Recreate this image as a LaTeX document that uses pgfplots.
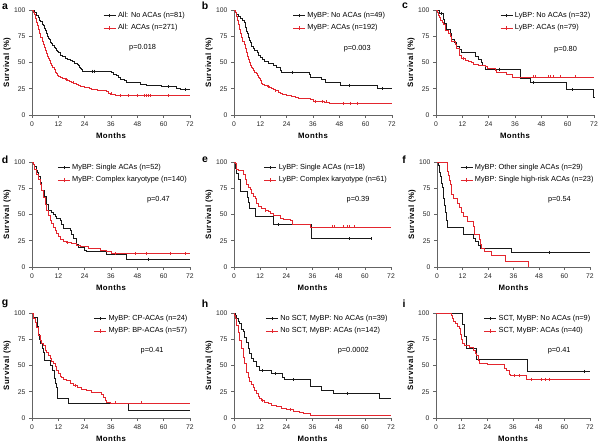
\documentclass[border=0pt]{standalone}
\usepackage{fontspec}
\setmainfont{Liberation Sans}
\newfontfamily\labfont[LetterSpace=6]{Liberation Sans}
\usepackage{pgfplots}
\pgfplotsset{compat=1.18}
\definecolor{kmred}{RGB}{227,38,46}
\definecolor{kmblack}{RGB}{25,25,25}
\definecolor{axgray}{RGB}{100,100,100}
\tikzset{pv/.style={font=\fontsize{7.4}{8}\selectfont, anchor=center}}
\pgfplotsset{
 km/.style={
  scale only axis, height=105bp, anchor=south west,
  xmin=0,xmax=72,ymin=0,ymax=100, clip=false,
  axis x line*=bottom, axis y line*=left,
  axis line style={axgray,line width=0.6pt,-},
  xtick={0,12,24,36,48,60,72}, ytick={0,25,50,75,100},
  tick align=outside, major tick length=3bp,
  tick style={axgray,line width=0.6pt},
  tick label style={font=\fontsize{6.8}{7}\selectfont, text=black!85},
  /pgf/number format/assume math mode=true,
  xlabel={Months}, ylabel={Survival (\%)},
  every axis x label/.style={at={(axis description cs:0.5,0)}, yshift=-21bp, anchor=center, font=\labfont\bfseries\fontsize{7.8}{8}\selectfont},
  every axis y label/.style={at={(axis description cs:0,0.5)}, xshift=-25bp, rotate=90, anchor=center, font=\labfont\bfseries\fontsize{7.8}{8}\selectfont},
  legend cell align=left,
  legend style={draw=none, fill=none, font=\fontsize{7.4}{8}\selectfont, inner sep=0pt, row sep=1.6bp, anchor=north west},
  legend image code/.code={\draw[##1] (0bp,0bp) -- (12bp,0bp); \draw[##1,line width=0.5pt] (6bp,-1.6bp) -- (6bp,1.6bp);},
 },
 kb/.style={kmblack, line width=0.75pt, const plot},
 kr/.style={kmred, line width=0.75pt, const plot},
 cb/.style={forget plot, only marks, mark=|, mark size=1.5bp, kmblack, mark options={line width=0.45pt}},
 cr/.style={forget plot, only marks, mark=|, mark size=1.5bp, kmred, mark options={line width=0.45pt}},
}
\begin{document}
\begin{tikzpicture}
\useasboundingbox (0,0) rectangle (600bp,443bp);
\tikzset{plab/.style={font=\bfseries\fontsize{10.5}{11}\selectfont, anchor=center}}
\node[plab] at (5bp,436bp) {a};
\node[plab] at (205bp,437bp) {b};
\node[plab] at (405bp,437bp) {c};
\node[plab] at (5bp,283bp) {d};
\node[plab] at (205bp,283bp) {e};
\node[plab] at (404bp,283bp) {f};
\node[plab] at (5bp,139bp) {g};
\node[plab] at (205bp,139bp) {h};
\node[plab] at (404bp,139bp) {i};

% ---------------- a
\begin{axis}[km, at={(32bp,328bp)}, width=158bp, legend style={at={(0.45,1.0)}}]
\addplot[kb] coordinates {(0,100) (1,97.5) (2,95.1) (3,92.6) (3.5,90.1) (4,88.9) (4.5,86.4) (5,85.2) (5.5,82.7) (6,80.2) (6.5,77.8) (7,75.3) (7.5,72.8) (8,71.6) (8.5,69.1) (9,67.9) (9.5,66.7) (10,64.2) (10.5,63) (11,61.7) (11.5,60.5) (12,59.3) (13,56.8) (14,55.6) (15,54.3) (16,53.1) (17.5,51.9) (18.5,50.6) (19.5,49.4) (20.5,48.1) (21,46.9) (21.5,45.7) (22,44.4) (22.5,43.2) (23,41.8) (36,40.4) (37,38.9) (38.5,37.4) (39.5,35.9) (40.5,34.4) (42,32.9) (43,31.1) (49.5,29.4) (52,28.1) (59,26.8) (66,25.5) (67.5,24.6) (72,24.6)};
\addlegendentry{All: No ACAs (n=81)}
\addplot[kr] coordinates {(0,100) (0.5,98) (1,95.5) (1.5,92) (2,88.5) (2.5,85) (3,81.5) (3.5,77.5) (4,74) (4.5,70.5) (5,67.5) (5.5,64.5) (6,61.5) (6.5,58.5) (7,56) (7.5,54) (8,52) (8.5,49.5) (9,47) (9.5,45) (10,43) (10.5,41) (11,39.5) (11.5,38) (12,36.5) (13,35.5) (14,34.5) (15,34) (16,33) (17,32) (18,31) (19,30.5) (20,29.5) (21,28.5) (22,27.5) (23,27) (24,26.2) (26,25.5) (27,24.8) (28,24.2) (30,23.7) (32,23.2) (34,22.5) (35,21) (35.5,20) (36.5,19.2) (38,18.8) (72,18.8)};
\addlegendentry{All: ACAs (n=271)}
\addplot[cb] coordinates {(27.5,41.8) (28.5,41.8) (62,26.8) (70,24.6)};
\addplot[cr] coordinates {(15.5,34) (19,30.5) (36,20) (40,18.8) (44,18.8) (48,18.8) (51,18.8) (52,18.8) (53,18.8) (54,18.8) (62,18.8)};
\node[pv] at (rel axis cs:0.70,0.64) {p=0.018};
\end{axis}

% ---------------- b
\begin{axis}[km, at={(234bp,328bp)}, width=158bp, legend style={at={(0.37,1.0)}}]
\addplot[kb] coordinates {(0,100) (0.5,98) (1,96) (2,93.9) (3,91.8) (4,89.8) (4.5,87.8) (5,83.7) (5.5,79.6) (6,77.6) (6.5,73.5) (7,71.4) (7.5,69.4) (8,65.3) (8.7,63.3) (9.5,61.2) (10.5,59.2) (11,57.1) (12,55.1) (13,53.1) (14,51) (15.5,49) (18,46.9) (19.5,44.9) (21,42.9) (21.7,40.8) (34.5,38.8) (35,35.7) (40,33.7) (41.5,30.6) (48.4,28.1) (65.5,25.3) (72,25.3)};
\addlegendentry{MyBP: No ACAs (n=49)}
\addplot[kr] coordinates {(0,100) (0.5,97.5) (1,94) (1.5,90) (2,86) (2.5,82) (3,78) (3.5,74) (4,70.5) (4.5,67) (5,63) (5.5,59.5) (6,56) (6.5,53) (7,50) (7.5,47.5) (8,45.5) (8.5,44) (9,42.5) (9.5,41) (10,39.5) (10.5,37.5) (11,36) (11.5,34.5) (12,32.5) (12.5,30.5) (13,29) (14,28) (15,27) (16,26) (17,25) (18,24) (19,23) (20,22) (21,21) (22,20) (23,19.2) (24,18.5) (26,17.8) (28,17) (29.5,16.3) (33,15.8) (35,14.5) (36,13) (41,12.4) (43.5,11) (72,11)};
\addlegendentry{MyBP: ACAs (n=192)}
\addplot[cb] coordinates {(26.7,40.8) (52.5,28.1) (67.4,25.3)};
\addplot[cr] coordinates {(15.5,27) (19,23) (37,13) (40,13) (42,12.4) (50,11) (53,11) (56,11)};
\node[pv] at (rel axis cs:0.78,0.63) {p=0.003};
\end{axis}

% ---------------- c
\begin{axis}[km, at={(436bp,328bp)}, width=158bp, legend style={at={(0.405,1.0)}}]
\addplot[kb] coordinates {(0,100) (1.5,96.9) (3.3,90.6) (4,87.5) (4.9,81.3) (6.4,78.1) (7.1,71.9) (8.4,68.8) (9.4,65.6) (10.6,62.5) (11.4,59.4) (18,56.3) (19.5,53.1) (20.5,50) (21.3,46.9) (22.5,43.8) (38.3,35) (42.8,31) (59.2,24) (71.8,17) (72,17)};
\addlegendentry{LyBP: No ACAs (n=32)}
\addplot[kr] coordinates {(0,100) (0.7,97.5) (1,95) (1.5,92.5) (2,90.5) (3,88) (3.3,86) (4.1,81) (5.5,78) (6.4,75) (7.1,70) (8.7,67) (9.4,63) (10.6,57) (11.7,54) (13.2,52) (14.7,51) (16.3,50) (17,48) (19.3,47.3) (22.3,46.4) (23.4,44) (26.9,42.6) (27.5,40.7) (32.2,38.5) (35,36.3) (72,36.3)};
\addlegendentry{LyBP: ACAs (n=79)}
\addplot[cb] coordinates {(2.5,96.9) (28.9,43.8) (44.2,31) (62.3,24)};
\addplot[cr] coordinates {(12.5,54) (44.2,36.3) (45.1,36.3) (51,36.3) (52,36.3) (53.3,36.3) (56.5,36.3) (63.3,36.3)};
\node[pv] at (rel axis cs:0.82,0.62) {p=0.80};
\end{axis}

% ---------------- d
\begin{axis}[km, at={(32bp,176bp)}, width=158bp, legend style={at={(0.16,1.0)}}]
\addplot[kb] coordinates {(0,100) (0.6,98.1) (1,96.2) (2.1,92.3) (2.5,90.4) (2.9,86.5) (3.6,80.8) (4.4,73.1) (5.5,67.3) (6.4,59.6) (7.4,53.8) (9,51.9) (9.7,50) (10.5,48.1) (11.2,46.2) (12.8,44.2) (13.5,40.4) (14.3,36.5) (17.3,34.6) (18,30.8) (18.8,26.9) (20,21.2) (21,18.3) (24,16.3) (25,15.2) (34,12.2) (43,7.6) (72,7.6)};
\addlegendentry{MyBP: Single ACAs (n=52)}
\addplot[kr] coordinates {(0,100) (0.6,97.5) (1.3,93) (2.1,88.4) (2.9,83.7) (3.6,79) (4.4,72.7) (5.2,66.5) (5.9,60) (6.7,54) (7.4,49) (8.2,44.5) (9,41.4) (9.7,38.2) (10.5,35) (11.2,32) (12,28.8) (12.8,26.3) (14.3,24.8) (15.8,23.5) (18,22.6) (20.4,21) (21.9,19.4) (25.7,17.9) (31,16.3) (34,14.7) (36.3,13) (72,13)};
\addlegendentry{MyBP: Complex karyotype (n=140)}
\addplot[cb] coordinates {(53,7.6)};
\addplot[cr] coordinates {(16,23.5) (38,13) (47,13) (52,13) (63,13) (70,13)};
\node[pv] at (rel axis cs:0.80,0.64) {p=0.47};
\end{axis}

% ---------------- e
\begin{axis}[km, at={(234bp,176bp)}, width=157bp, legend style={at={(0.19,1.0)}}]
\addplot[kb] coordinates {(0,100) (0.5,94.4) (1,88.9) (2,83.3) (2.8,77.8) (3,72.2) (6,66.7) (6.5,61.1) (7.2,55.6) (10,48.6) (18,40.5) (35.5,27) (63,27)};
\addlegendentry{LyBP: Single ACAs (n=18)}
\addplot[kr] coordinates {(0,100) (0.5,98.4) (1,96.7) (1.3,93.4) (2,91.8) (4.5,88.5) (5,83.6) (5.8,78.7) (6.6,75.4) (7.3,73.8) (8.1,70.5) (8.9,67.2) (9.6,65.6) (10.4,60.7) (11.2,57.4) (12.7,55.7) (14.2,54.1) (15.7,52.5) (16.5,50.8) (18,49.2) (21.1,46.7) (22.6,45.5) (25.7,44.5) (26.9,40.4) (34.9,38.2) (72,38.2)};
\addlegendentry{LyBP: Complex karyotype (n=61)}
\addplot[cb] coordinates {(20.5,40.5) (53,27) (63,27)};
\addplot[cr] coordinates {(14.5,54.1) (45,38.2) (46,38.2) (50,38.2) (52,38.2) (53,38.2) (55,38.2)};
\node[pv] at (rel axis cs:0.79,0.64) {p=0.39};
\end{axis}

% ---------------- f
\begin{axis}[km, at={(437bp,176bp)}, width=153bp, legend style={at={(0.15,1.0)}}]
\addplot[kb] coordinates {(0,100) (0.5,96.6) (1,93.1) (1.3,89.7) (1.6,86.2) (2,82.8) (2.2,79.3) (2.5,75.9) (2.8,72.4) (3,69) (3.2,65.5) (3.4,62.1) (3.6,58.6) (3.8,55.2) (4,51.7) (4.2,48.3) (4.4,44.8) (4.7,41.4) (5,37.9) (12.3,34.5) (12.6,31) (17.2,27.6) (18,24.1) (19.5,20.7) (20.5,18) (35,14) (72,14)};
\addlegendentry{MyBP: Other single ACAs (n=29)}
\addplot[kr] coordinates {(0,100) (4.7,95.7) (5,91.3) (5.4,87) (5.9,82.6) (6.2,78.3) (6.6,69.6) (7.8,65.2) (9.7,60.9) (10.3,56.5) (11.7,52.2) (12.5,47.8) (14.1,43.5) (17.2,39.1) (17.5,31) (20,26.1) (20.5,21.7) (21,17.4) (22.5,14.5) (25.5,10.9) (32.1,5.4) (43,0)};
\addlegendentry{MyBP: Single high-risk ACAs (n=23)}
\addplot[cb] coordinates {(53,14)};
\node[pv] at (rel axis cs:0.80,0.64) {p=0.54};
\end{axis}

% ---------------- g
\begin{axis}[km, at={(32bp,25bp)}, width=158bp, legend style={at={(0.39,1.0)}}]
\addplot[kb] coordinates {(0,100) (0.5,95.8) (2.5,87.5) (2.8,79.2) (3.2,75) (4,70.8) (4.5,66.7) (5,62.5) (5.8,54.9) (8.5,50) (9.5,45.8) (10,41.7) (10.4,37.5) (10.8,33.3) (11.1,29.2) (11.5,18.4) (16.5,14.3) (43.7,7) (72,7)};
\addlegendentry{MyBP: CP-ACAs (n=24)}
\addplot[kr] coordinates {(0,100) (0.6,94.6) (1.4,91.4) (2.1,86.7) (2.9,79) (3.6,74) (4.4,70.8) (5.2,69) (5.9,64.4) (6.7,62.9) (7.4,59.7) (8.2,56.5) (9,54) (9.7,51.7) (10.5,49.2) (11.2,45.4) (12,42.2) (12.8,39.7) (13.5,38.4) (14.3,36.5) (15.8,35.9) (17.3,33.3) (18.8,31.1) (20.7,28.9) (22.6,27.3) (24.9,26.3) (27.2,24.8) (31.8,22.5) (32.5,19.4) (33.3,16.8) (34,15.2) (35.5,14.3) (72,14.3)};
\addlegendentry{MyBP: BP-ACAs (n=57)}
\addplot[cr] coordinates {(19.5,31.1) (38,14.3) (50,14.3)};
\node[pv] at (rel axis cs:0.76,0.64) {p=0.41};
\end{axis}

% ---------------- h
\begin{axis}[km, at={(234bp,25bp)}, width=157bp, legend style={at={(0.2,1.0)}}]
\addplot[kb] coordinates {(0,100) (0.5,97.4) (1.1,94.9) (1.8,92.3) (2.6,89.7) (3.4,84.6) (4.1,82.1) (4.9,76.9) (5.7,71.8) (6.4,66.7) (7.2,61.5) (8,56.4) (8.7,53.8) (10.3,48.7) (11.8,45) (17.2,42.2) (22.3,38.4) (23.3,36.5) (34.8,29.8) (40.2,26.3) (45.6,23) (66.8,19) (72,19)};
\addlegendentry{No SCT, MyBP: No ACAs (n=39)}
\addplot[kr] coordinates {(0,100) (0.3,97.5) (0.6,94.6) (1.1,88.3) (1.8,81.9) (2.6,74) (3.4,66) (4.1,58) (4.9,51.7) (5.7,43.8) (6.4,39) (7.2,34.9) (8,31.7) (8.7,28.9) (9.5,26.3) (10.3,23.8) (11.1,20.6) (11.8,18.4) (12.6,16.8) (14.1,15.2) (15.7,13.7) (17.2,12.1) (19.5,11.1) (21.8,8.9) (24.1,7.9) (27.2,6.7) (30.2,5.7) (31.8,4.8) (33.3,4.1) (35.2,2.5) (72,2.5)};
\addlegendentry{No SCT, MyBP: ACAs (n=142)}
\addplot[cb] coordinates {(13,45) (19,42.2) (27,36.5) (52,23)};
\addplot[cr] coordinates {(13,16.8) (26,7.9)};
\node[pv] at (rel axis cs:0.76,0.64) {p=0.0002};
\end{axis}

% ---------------- i
\begin{axis}[km, at={(436bp,25bp)}, width=154bp, legend style={at={(0.31,1.0)}}]
\addplot[kb] coordinates {(0,100) (12.2,88.9) (13.1,77.8) (14,66.7) (19,55.6) (42.6,44.4) (72,44.4)};
\addlegendentry{SCT, MyBP: No ACAs (n=9)}
\addplot[kr] coordinates {(0,100) (7,97.5) (7.6,95) (8.3,92.5) (9,90) (10,87.5) (10.8,85) (11.3,80) (11.9,75) (12.5,71) (13.3,69) (15.5,67) (17.5,64.5) (18.3,62) (19,59.5) (19.6,55) (20.4,52.4) (23.8,51) (32,47.6) (32.8,45.4) (34.2,41.6) (35,40.3) (42.4,36.8) (72,36.8)};
\addlegendentry{SCT, MyBP: ACAs (n=40)}
\addplot[cb] coordinates {(69.3,44.4)};
\addplot[cr] coordinates {(36.5,40.3) (39,40.3) (44.5,36.8) (49,36.8) (51,36.8) (53,36.8)};
\node[pv] at (rel axis cs:0.80,0.64) {p=0.41};
\end{axis}
\end{tikzpicture}
\end{document}
